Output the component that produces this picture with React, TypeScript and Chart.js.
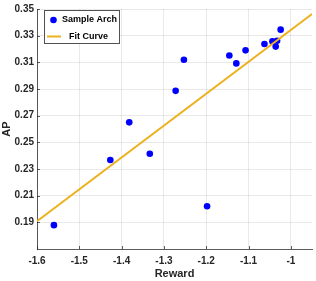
import React, { useEffect, useRef } from "react";
import { Chart, registerables } from "chart.js";

Chart.register(...registerables);

const archReward = [-1.560, -1.4267, -1.3334, -1.382, -1.2723, -1.2528, -1.1454, -1.1289, -1.107, -1.0624, -1.0436, -1.0325, -1.0358, -1.0241, -1.198];
const archAP = [0.1879, 0.2367, 0.2414, 0.265, 0.2886, 0.3119, 0.3151, 0.3092, 0.319, 0.3237, 0.3257, 0.3262, 0.3218, 0.3345, 0.2021];
const fitReward = [-1.6, -0.95];
const fitAP = [0.1908, 0.3463];
const xTicks = [-1.6, -1.5, -1.4, -1.3, -1.2, -1.1, -1.0];
const yTicks = [0.19, 0.21, 0.23, 0.25, 0.27, 0.29, 0.31, 0.33, 0.35];
const seriesNames = ["Sample Arch", "Fit Curve"];

const FONT = '"Liberation Sans", Arial, Helvetica, sans-serif';
const TXT = "#262626";
const BLUE = "#0000ff";
const ORANGE = "#EDB120";

const inwardTicks = {
  id: "inwardTicks",
  afterDatasetsDraw(chart: any) {
    const { ctx, chartArea, scales } = chart;
    ctx.save();
    ctx.strokeStyle = "rgba(38,38,38,0.75)";
    ctx.lineWidth = 1;
    ctx.beginPath();
    for (const t of xTicks) {
      const x = Math.round(scales.x.getPixelForValue(t)) + 0.5;
      ctx.moveTo(x, chartArea.bottom);
      ctx.lineTo(x, chartArea.bottom - 3);
    }
    for (const t of yTicks) {
      const y = Math.round(scales.y.getPixelForValue(t)) + 0.5;
      ctx.moveTo(chartArea.left, y);
      ctx.lineTo(chartArea.left + 3, y);
    }
    ctx.stroke();
    ctx.restore();
  },
};

const customLegend = {
  id: "customLegend",
  afterDraw(chart: any) {
    const { ctx } = chart;
    ctx.save();
    const bx = 44.5, by = 10.5, bw = 75, bh = 33;
    ctx.fillStyle = "#ffffff";
    ctx.fillRect(bx, by, bw, bh);
    ctx.strokeStyle = "rgba(38,38,38,0.8)";
    ctx.lineWidth = 1;
    ctx.strokeRect(bx, by, bw, bh);
    ctx.fillStyle = BLUE;
    ctx.beginPath();
    ctx.arc(53.5, 20, 3.3, 0, Math.PI * 2);
    ctx.fill();
    ctx.strokeStyle = ORANGE;
    ctx.lineWidth = 2;
    ctx.beginPath();
    ctx.moveTo(47, 36.5);
    ctx.lineTo(61, 36.5);
    ctx.stroke();
    ctx.fillStyle = "#000000";
    ctx.font = `bold 9px ${FONT}`;
    ctx.textBaseline = "middle";
    ctx.textAlign = "left";
    ctx.fillText(seriesNames[0], 62, 20);
    ctx.fillText(seriesNames[1], 69, 37);
    ctx.restore();
  },
};

export default function App() {
  const ref = useRef<HTMLCanvasElement | null>(null);
  useEffect(() => {
    document.body.style.margin = "0";
    const canvas = ref.current!;
    const chart = new Chart(canvas, {
      type: "scatter",
      data: {
        datasets: [
          {
            label: seriesNames[1],
            data: fitReward.map((x, i) => ({ x, y: fitAP[i] })),
            showLine: true,
            borderColor: ORANGE,
            borderWidth: 2,
            pointRadius: 0,
            order: 0,
          },
          {
            label: seriesNames[0],
            data: archReward.map((x, i) => ({ x, y: archAP[i] })),
            backgroundColor: BLUE,
            borderColor: BLUE,
            pointRadius: 3.3,
            borderWidth: 0,
            order: 1,
          },
        ],
      },
      options: {
        responsive: false,
        animation: false,
        devicePixelRatio: 1,
        layout: { padding: { top: 5, right: 4, left: 0, bottom: 0 } },
        plugins: { legend: { display: false }, tooltip: { enabled: false } },
        scales: {
          x: {
            type: "linear",
            min: -1.6,
            max: -0.95,
            afterBuildTicks: (s: any) => {
              s.ticks = xTicks.map((v) => ({ value: v }));
            },
            afterFit: (s: any) => {
              s.height = 32;
            },
            ticks: {
              font: { family: FONT, size: 10, weight: "bold" },
              color: TXT,
              padding: 6,
              maxRotation: 0,
              callback: (v: any) => String(Math.round(v * 10) / 10),
            },
            grid: { color: "rgba(38,38,38,0.1)", drawTicks: false, lineWidth: 1 },
            border: { color: "rgba(38,38,38,0.75)", width: 1 },
            title: {
              display: true,
              text: "Reward",
              font: { family: FONT, size: 11, weight: "bold" },
              color: TXT,
              padding: { top: 0, bottom: 0 },
            },
          },
          y: {
            type: "linear",
            min: 0.17,
            max: 0.35,
            afterBuildTicks: (s: any) => {
              s.ticks = yTicks.map((v) => ({ value: v }));
            },
            afterFit: (s: any) => {
              s.width = 37;
            },
            ticks: {
              font: { family: FONT, size: 10, weight: "bold" },
              color: TXT,
              padding: 3,
              callback: (v: any) => Number(v).toFixed(2),
            },
            grid: { color: "rgba(38,38,38,0.1)", drawTicks: false, lineWidth: 1 },
            border: { color: "rgba(38,38,38,0.75)", width: 1 },
            title: {
              display: true,
              text: "AP",
              font: { family: FONT, size: 11, weight: "bold" },
              color: TXT,
              padding: { top: 0, bottom: 0 },
            },
          },
        },
      },
      plugins: [inwardTicks, customLegend],
    } as any);
    return () => chart.destroy();
  }, []);
  return (
    <div style={{ width: 316, height: 281, background: "#fff" }}>
      <canvas ref={ref} width={316} height={281} />
    </div>
  );
}
